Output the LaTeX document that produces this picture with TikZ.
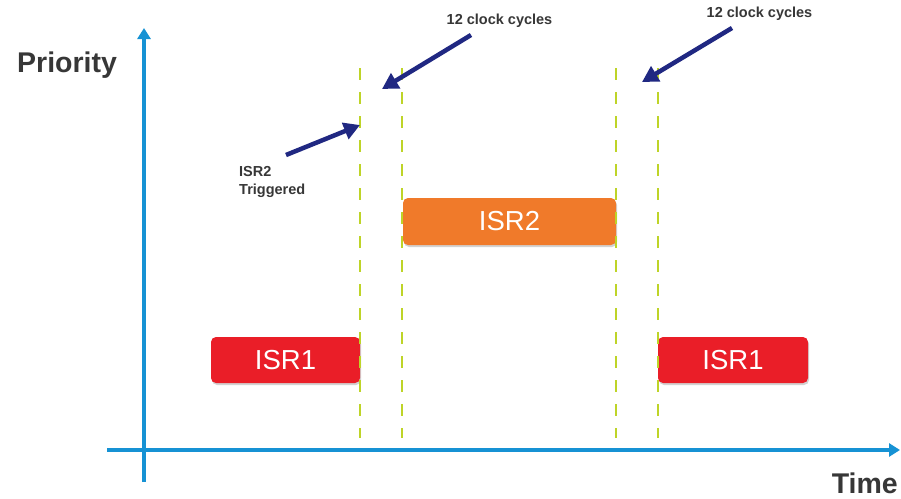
\documentclass[tikz,border=0pt]{standalone}
\usepackage{fontspec}
\setmainfont{Liberation Sans}
\usetikzlibrary{arrows.meta,shadows}
\definecolor{axisblue}{RGB}{22,146,212}
\definecolor{navyarr}{RGB}{32,40,130}
\definecolor{dashgreen}{RGB}{190,212,40}
\definecolor{isrred}{RGB}{234,30,40}
\definecolor{isrorange}{RGB}{240,122,42}
\definecolor{txtgray}{RGB}{55,55,55}
\tikzset{
  axis/.style={draw=axisblue,line width=4pt,-{Triangle[length=11pt,width=13pt]}},
  marker/.style={draw=dashgreen,line width=2.8pt,dash pattern=on 12pt off 12pt},
  callout/.style={draw=navyarr,line width=4.5pt,-{Triangle[length=16pt,width=17pt]}},
  isrbox/.style={rounded corners=5pt,inner sep=0pt,text=white,
    font=\fontsize{27.5}{31}\selectfont,
    drop shadow={shadow xshift=1pt,shadow yshift=-2pt,opacity=0.35}},
  lbl/.style={text=txtgray,font=\bfseries\fontsize{14.5}{18}\selectfont,inner sep=0pt},
  big/.style={text=txtgray,font=\bfseries\fontsize{28.5}{32}\selectfont,inner sep=0pt}
}
\begin{document}
\begin{tikzpicture}[x=1pt,y=-1pt]
\useasboundingbox[fill=white] (0,0) rectangle (901,498);
% axes
\coordinate (yb) at (144,482);
\coordinate (yt) at (144,28);
\coordinate (xl) at (107,450);
\coordinate (xr) at (900,450);
\draw[axis] (yb) -- (yt);
\draw[axis] (xl) -- (xr);
\node[big,anchor=base west] (prio) at (17,72) {Priority};
\node[big,anchor=base east] (time) at (898,493) {Time};
% boxes
\node[isrbox,fill=isrred,minimum width=149pt,minimum height=46pt] (isr1a) at (285.5,360) {ISR1};
\node[isrbox,fill=isrorange,minimum width=213pt,minimum height=47pt] (isr2) at (509.5,221.5) {ISR2};
\node[isrbox,fill=isrred,minimum width=150pt,minimum height=46pt] (isr1b) at (733,360) {ISR1};
% dashed markers
\foreach \n/\x in {d1/360,d2/402,d3/616,d4/658}{
  \coordinate (\n t) at (\x,68);
  \coordinate (\n b) at (\x,438);
  \draw[marker] (\n t) -- (\n b);
}
% labels and callouts
\node[lbl,anchor=base] (c1) at (499.5,24) {12 clock cycles};
\node[lbl,anchor=base] (c2) at (759.5,17) {12 clock cycles};
\node[lbl,anchor=north west,align=left] (trig) at (239,166) {ISR2\\Triggered};
\coordinate (a1s) at (471,35);
\coordinate (a1e) at (382,89);
\coordinate (a2s) at (732,28);
\coordinate (a2e) at (642,82);
\coordinate (a3s) at (286,155);
\coordinate (a3e) at (360,125);
\draw[callout] (a1s) -- (a1e);
\draw[callout] (a2s) -- (a2e);
\draw[callout] (a3s) -- (a3e);
\end{tikzpicture}
\end{document}
